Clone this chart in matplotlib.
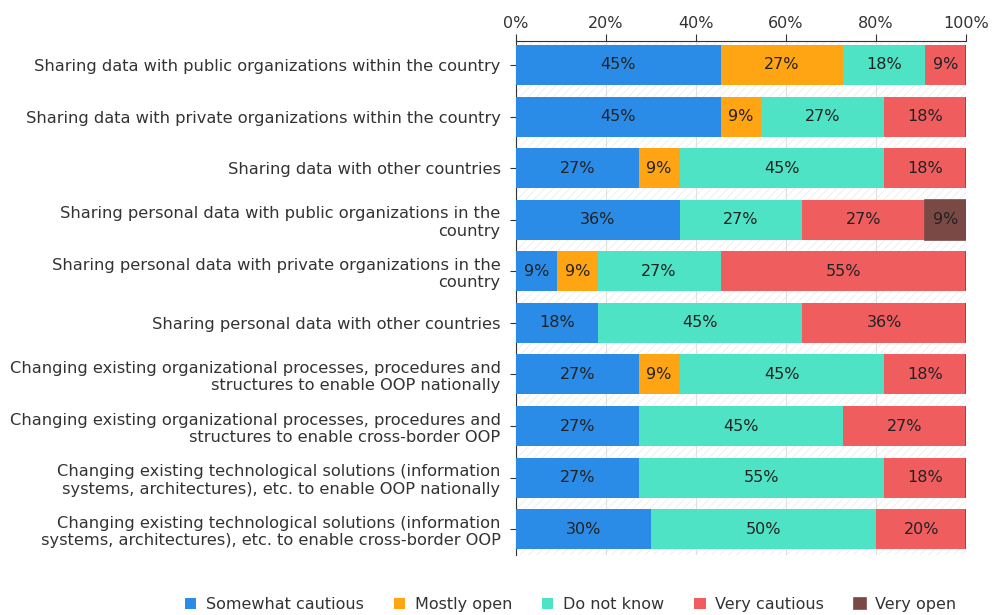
import numpy as np
import matplotlib
matplotlib.use('Agg')
import matplotlib.pyplot as plt

categories = [
    'Sharing data with public organizations within the country',
    'Sharing data with private organizations within the country',
    'Sharing data with other countries',
    'Sharing personal data with public organizations in the\ncountry',
    'Sharing personal data with private organizations in the\ncountry',
    'Sharing personal data with other countries',
    'Changing existing organizational processes, procedures and\nstructures to enable OOP nationally',
    'Changing existing organizational processes, procedures and\nstructures to enable cross-border OOP',
    'Changing existing technological solutions (information\nsystems, architectures), etc. to enable OOP nationally',
    'Changing existing technological solutions (information\nsystems, architectures), etc. to enable cross-border OOP',
]

somewhat_cautious = [45.45, 45.45, 27.27, 36.36, 9.09, 18.18, 27.27, 27.27, 27.27, 30.0]
mostly_open = [27.27, 9.09, 9.09, 0, 9.09, 0, 9.09, 0, 0, 0]
do_not_know = [18.18, 27.27, 45.45, 27.27, 27.27, 45.45, 45.45, 45.45, 54.55, 50.0]
very_cautious = [9.09, 18.18, 18.18, 27.27, 54.55, 36.36, 18.18, 27.27, 18.18, 20.0]
very_open = [0, 0, 0, 9.09, 0, 0, 0, 0, 0, 0]

series = [
    ('Somewhat cautious', somewhat_cautious, '#2a8ce6'),
    ('Mostly open', mostly_open, '#ffa514'),
    ('Do not know', do_not_know, '#4ee3c5'),
    ('Very cautious', very_cautious, '#f05d5e'),
    ('Very open', very_open, '#7a4946'),
]

plt.rcParams['font.family'] = 'DejaVu Sans'
plt.rcParams['hatch.linewidth'] = 0.6
fs = 11.5

fig = plt.figure(figsize=(9.92, 6.15), dpi=100)
ax = fig.add_axes([0.520, 0.0976, 0.454, 0.8358])

y = np.arange(len(categories))
left = np.zeros(len(categories))
for name, vals, color in series:
    vals = np.array(vals, dtype=float)
    ax.barh(y, vals, left=left, height=0.776, color=color, label=name,
            edgecolor=color if name == 'Very open' else 'none',
            linewidth=1.2 if name == 'Very open' else 0, zorder=3)
    for i, v in enumerate(vals):
        if v >= 5:
            ax.text(left[i] + v / 2, y[i], f'{v:.0f}%', ha='center', va='center',
                    fontsize=fs, color='#222222', zorder=4)
    left += vals

ax.set_xlim(0, 100)
ax.set_ylim(9.5, -0.465)
ax.set_yticks(y)
ax.set_yticklabels(categories, fontsize=11.7, color='#333333')
ax.set_xticks(np.arange(0, 101, 20))
ax.set_xticklabels([f'{t}%' for t in range(0, 101, 20)], fontsize=fs, color='#333333')
ax.xaxis.tick_top()
ax.tick_params(axis='x', length=5, color='#333333', pad=2)
ax.tick_params(axis='y', length=4, color='#333333', pad=7)
ax.grid(axis='x', color='#e0e0e0', linewidth=0.8, zorder=0)

# hatched plot background
ax.patch.set_facecolor('white')
ax.patch.set_hatch('////')
ax.patch.set_edgecolor('#ececec')

for s in ['right', 'bottom']:
    ax.spines[s].set_visible(False)
ax.spines['top'].set_color('#333333')
ax.spines['left'].set_color('#333333')

ax.legend(loc='center right', bbox_to_anchor=(1.01, -0.096), ncol=5,
          frameon=False, fontsize=fs, handlelength=0.7, handleheight=0.7,
          handletextpad=0.6, columnspacing=1.9, labelcolor='#333333')

fig.savefig('out.png', dpi=100)
